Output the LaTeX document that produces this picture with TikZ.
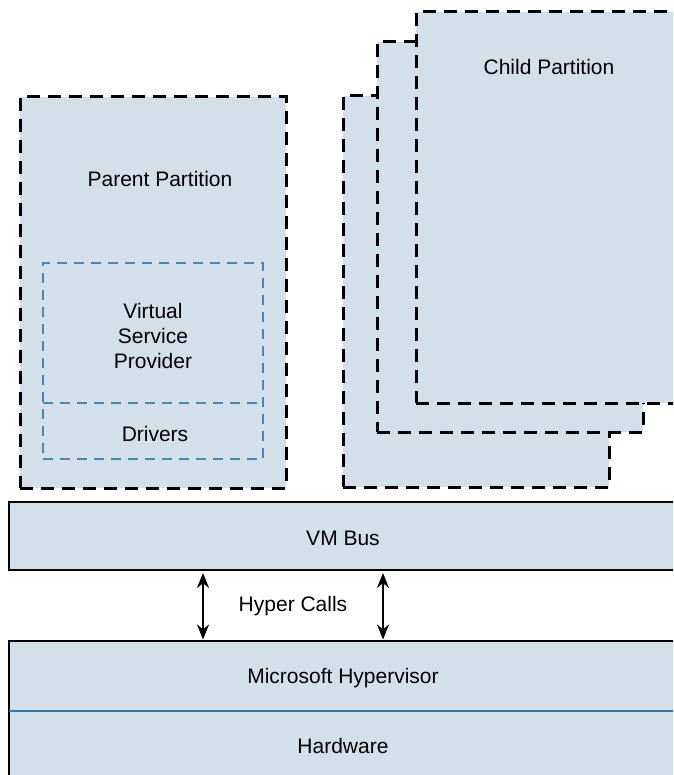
\documentclass[tikz,border=0pt]{standalone}
\usepackage{fontspec}
\setmainfont{Liberation Sans}
\usetikzlibrary{arrows.meta}
\definecolor{fillblue}{HTML}{D3E0E9}
\definecolor{dashblue}{HTML}{4A86B2}
\definecolor{lineblue}{HTML}{3A77A8}
\begin{document}
\begin{tikzpicture}[x=1pt,y=-1pt,
  partbox/.style={draw=black, fill=fillblue, line width=3pt, dash pattern=on 13pt off 8pt, anchor=north west, inner sep=0pt, outer sep=0pt},
  innerdash/.style={draw=dashblue, line width=1.4pt, dash pattern=on 10pt off 7pt},
  innerbox/.style={innerdash, anchor=north west, inner sep=0pt, outer sep=0pt},
  plainbox/.style={anchor=north west, inner sep=0pt, outer sep=0pt},
  layer/.style={draw=black, fill=fillblue, line width=2.8pt, anchor=north west, inner sep=0pt, outer sep=0pt},
  lbl/.style={font=\fontsize{21}{25}\selectfont, align=center, inner sep=0pt},
  dbl/.style={{Stealth[length=15pt,width=12pt]}-{Stealth[length=15pt,width=12pt]}, line width=2.3pt}
]
\useasboundingbox (0,0) rectangle (673,775);
\clip (0,0) rectangle (673,775);

% parent partition
\node[partbox, minimum width=266pt, minimum height=391pt] (parent) at (20,97) {};
\node[lbl, anchor=base] (parentlbl) at (160,187) {Parent Partition};
\node[innerbox, minimum width=220pt, minimum height=196pt] (vsp) at (43,263) {};
\node[plainbox, minimum width=220pt, minimum height=56pt] (drv) at (43,403) {};
\draw[innerdash] (drv.north west) -- (drv.north east);
\node[lbl] (vsplbl) at (153,335.5) {Virtual\\Service\\Provider};
\node[lbl, anchor=base] (drvlbl) at (155,441) {Drivers};

% child partitions
\node[partbox, minimum width=266pt, minimum height=391pt] (childc) at (343,96) {};
\node[partbox, minimum width=266pt, minimum height=390pt] (childb) at (377,42) {};
\node[partbox, minimum width=266pt, minimum height=391pt] (childa) at (416,12) {};
\node[lbl, anchor=base] (childlbl) at (549,75) {Child Partition};

% VM bus
\node[layer, minimum width=668pt, minimum height=68pt] (vmbus) at (9,502) {};
\node[lbl, anchor=base] (vmbuslbl) at (343,545) {VM Bus};

% hypervisor + hardware
\node[layer, minimum width=668pt, minimum height=170pt] (hyper) at (9,641) {};
\coordinate (divl) at (9,711);
\coordinate (divr) at (677,711);
\draw[lineblue, line width=1.3pt] (divl) -- (divr);
\node[lbl, anchor=base] (hyperlbl) at (343,683) {Microsoft Hypervisor};
\node[lbl, anchor=base] (hwlbl) at (343,753) {Hardware};

% hyper calls
\coordinate (ax1) at (203,0);
\coordinate (ax2) at (383,0);
\draw[dbl, shorten <=3pt, shorten >=1.5pt] (vmbus.south -| ax1) -- (hyper.north -| ax1);
\draw[dbl, shorten <=3pt, shorten >=1.5pt] (vmbus.south -| ax2) -- (hyper.north -| ax2);
\node[lbl, anchor=base] (calls) at (293,611) {Hyper Calls};
\end{tikzpicture}
\end{document}
